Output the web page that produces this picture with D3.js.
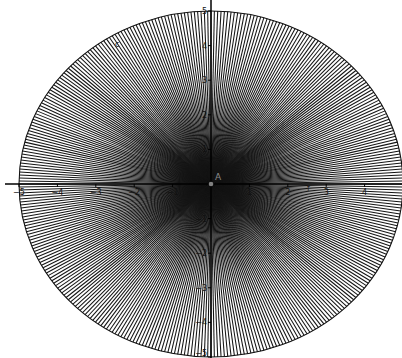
<!DOCTYPE html>
<html>
<head>
<meta charset="utf-8">
<script src="https://cdn.jsdelivr.net/npm/d3@7"></script>
<style>
  html, body { margin: 0; padding: 0; background: #fff; }
  svg { display: block; }
</style>
</head>
<body>
<svg id="chart" width="402" height="358"></svg>
<script>
// ---- data ----
const circleRadius = 5;                 // circle c: x^2 + y^2 = 25
const rayAnglesDeg = d3.range(0, 360, 1); // sequence of segments from A to the circle, every 1 degree
const xTickValues = [-5, -4, -3, -2, -1, 1, 2, 3, 4];
const yTickValues = [5, 4, 3, 2, 1, -1, -2, -3, -4, -5];
const pointA = { name: "A", x: 0, y: 0 };
const objectLabels = [
  { text: "c", x: -2.5, y: 3.96 },
  { text: "f", x: 2.5, y: -0.2 }
];

// ---- layout ----
const W = 402, H = 358;
const x = d3.scaleLinear().domain([-5.495, 4.974]).range([0, W]);
const y = d3.scaleLinear().domain([5.318, -5.03]).range([0, H]);

const svg = d3.select("#chart");

// rays
const rays = svg.append("g").attr("class", "rays");
rays.selectAll("line")
  .data(rayAnglesDeg)
  .join("line")
  .attr("x1", x(pointA.x))
  .attr("y1", y(pointA.y))
  .attr("x2", d => x(circleRadius * Math.cos(d * Math.PI / 180)))
  .attr("y2", d => y(circleRadius * Math.sin(d * Math.PI / 180)))
  .attr("stroke", "#141414")
  .attr("stroke-width", 1.05);

// circle (ellipse on screen because axes scale differently)
svg.append("ellipse")
  .attr("cx", x(0)).attr("cy", y(0))
  .attr("rx", x(circleRadius) - x(0))
  .attr("ry", y(0) - y(circleRadius))
  .attr("fill", "none")
  .attr("stroke", "#111")
  .attr("stroke-width", 1.1);

// axes
const axisG = svg.append("g").attr("class", "axes");
axisG.append("line")
  .attr("x1", 5).attr("x2", W)
  .attr("y1", y(0)).attr("y2", y(0))
  .attr("stroke", "#000").attr("stroke-width", 1.5);
axisG.append("line")
  .attr("x1", x(0)).attr("x2", x(0))
  .attr("y1", 0).attr("y2", H)
  .attr("stroke", "#000").attr("stroke-width", 1.5);

// x ticks
axisG.selectAll(".xt")
  .data(xTickValues)
  .join("line")
  .attr("class", "xt")
  .attr("x1", d => x(d)).attr("x2", d => x(d))
  .attr("y1", y(0)).attr("y2", y(0) + 3)
  .attr("stroke", "#000");
axisG.selectAll(".xl")
  .data(xTickValues)
  .join("text")
  .attr("class", "xl")
  .attr("x", d => x(d))
  .attr("y", y(0) + 11)
  .attr("text-anchor", "middle")
  .attr("font-family", "DejaVu Sans, sans-serif")
  .attr("font-size", 8)
  .attr("fill", "#111")
  .text(d => d < 0 ? "\u2212" + Math.abs(d) : d);

// y ticks
axisG.selectAll(".yt")
  .data(yTickValues)
  .join("line")
  .attr("class", "yt")
  .attr("x1", x(0) - 3).attr("x2", x(0))
  .attr("y1", d => y(d)).attr("y2", d => y(d))
  .attr("stroke", "#000");
axisG.selectAll(".yl")
  .data(yTickValues)
  .join("text")
  .attr("class", "yl")
  .attr("x", x(0) - 4)
  .attr("y", d => Math.min(y(d) + 3, H - 2))
  .attr("text-anchor", "end")
  .attr("font-family", "DejaVu Sans, sans-serif")
  .attr("font-size", 8)
  .attr("fill", "#111")
  .text(d => d < 0 ? "\u2212" + Math.abs(d) : d);

// point A
svg.append("circle")
  .attr("cx", x(pointA.x)).attr("cy", y(pointA.y))
  .attr("r", 2.3)
  .attr("fill", "#808080");
svg.append("text")
  .attr("x", x(pointA.x) + 4)
  .attr("y", y(pointA.y) - 4)
  .attr("font-family", "DejaVu Sans, sans-serif")
  .attr("font-size", 9)
  .attr("fill", "#8a8a8a")
  .text(pointA.name);

// object labels
svg.selectAll(".ol")
  .data(objectLabels)
  .join("text")
  .attr("class", "ol")
  .attr("x", d => x(d.x))
  .attr("y", d => y(d.y))
  .attr("font-family", "DejaVu Sans, sans-serif")
  .attr("font-size", 8)
  .attr("fill", "#222")
  .text(d => d.text);
</script>
</body>
</html>
